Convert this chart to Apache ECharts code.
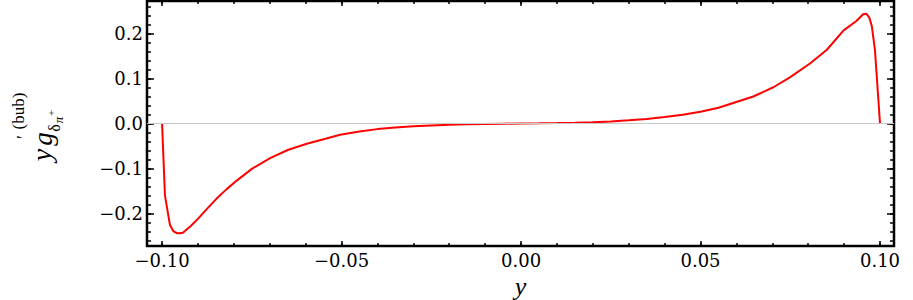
<!DOCTYPE html>
<html>
<head>
<meta charset="utf-8">
<script src="https://cdn.jsdelivr.net/npm/echarts@6/dist/echarts.min.js"></script>
<style>html,body{margin:0;padding:0;background:#fff}#c{width:913px;height:300px}</style>
</head>
<body>
<div id="c"></div>
<script>
// ---- data ----
const xValues = [-0.1, -0.0992, -0.0978, -0.0968, -0.0959, -0.0950, -0.0942, -0.0920, -0.0899, -0.0875,
  -0.0848, -0.0820, -0.0792, -0.0750, -0.0699, -0.0650, -0.0597, -0.0550, -0.0504, -0.0450,
  -0.0400, -0.0350, -0.0300, -0.0250, -0.0200, -0.0150, -0.0100, -0.0050, 0.0, 0.0050,
  0.0100, 0.0150, 0.0200, 0.0250, 0.0300, 0.0350, 0.0400, 0.0450, 0.0500, 0.0550,
  0.0591, 0.0647, 0.0703, 0.0749, 0.0805, 0.0852, 0.0898, 0.0935, 0.0953, 0.0962,
  0.0970, 0.0977, 0.0986, 0.1];
const yValues = [0, -0.160, -0.226, -0.240, -0.244, -0.244, -0.243, -0.228, -0.211, -0.190,
  -0.167, -0.146, -0.127, -0.101, -0.077, -0.059, -0.045, -0.035, -0.025, -0.018,
  -0.0125, -0.0088, -0.0060, -0.0042, -0.0028, -0.0018, -0.0010, -0.0004, 0, 0.0003,
  0.0009, 0.0018, 0.0030, 0.0047, 0.0070, 0.0100, 0.0145, 0.0195, 0.0260, 0.0350,
  0.0455, 0.0600, 0.0806, 0.1026, 0.1334, 0.1640, 0.2066, 0.2286, 0.2430, 0.2440,
  0.2360, 0.2176, 0.1630, 0];
const xTickLabels = [-0.10, -0.05, 0.00, 0.05, 0.10];
const xMinorTicks = [-0.10,-0.09,-0.08,-0.07,-0.06,-0.05,-0.04,-0.03,-0.02,-0.01,0,0.01,0.02,0.03,0.04,0.05,0.06,0.07,0.08,0.09,0.10];
const yTickLabels = [-0.2, -0.1, 0.0, 0.1, 0.2];
const yMinorTicks = [-0.26,-0.24,-0.22,-0.2,-0.18,-0.16,-0.14,-0.12,-0.1,-0.08,-0.06,-0.04,-0.02,0,0.02,0.04,0.06,0.08,0.1,0.12,0.14,0.16,0.18,0.2,0.22,0.24,0.26];
const xRange = [-0.1042, 0.1039];
const yRange = [-0.2725, 0.2725];

const points = xValues.map((x, i) => [x, yValues[i]]);
const FONT = 'DejaVu Serif';
const NFONT = 'Liberation Serif';
const minus = s => s.replace('-', '\u2212');

function xAxisDef(pos, vals, len, labels) {
  return {
    type: 'value', position: pos, min: xRange[0], max: xRange[1],
    axisLine: {show: false, onZero: false},
    splitLine: {show: false},
    axisTick: {show: true, inside: true, length: len, customValues: vals, lineStyle: {color: '#000', width: 1.5}},
    axisLabel: labels ? {show: true, customValues: xTickLabels, margin: 5, color: '#000', fontFamily: FONT, fontSize: 18,
      formatter: v => minus(v.toFixed(2))} : {show: false}
  };
}
function yAxisDef(pos, vals, len, labels) {
  return {
    type: 'value', position: pos, min: yRange[0], max: yRange[1],
    axisLine: {show: false, onZero: false},
    splitLine: {show: false},
    axisTick: {show: true, inside: true, length: len, customValues: vals, lineStyle: {color: '#000', width: 1.5}},
    axisLabel: labels ? {show: true, customValues: yTickLabels, margin: 4, color: '#000', fontFamily: FONT, fontSize: 18,
      formatter: v => minus(v.toFixed(1))} : {show: false}
  };
}

const chart = echarts.init(document.getElementById('c'), null, {renderer: 'svg'});
const xs = [xAxisDef('bottom', xTickLabels, 5, true), xAxisDef('bottom', xMinorTicks, 3, false),
            xAxisDef('top', xTickLabels, 5, false), xAxisDef('top', xMinorTicks, 3, false)];
xs[0].name = 'y';
xs[0].nameLocation = 'middle';
xs[0].nameGap = 17;
xs[0].nameTextStyle = {fontFamily: NFONT, fontStyle: 'italic', fontSize: 26, color: '#000', lineHeight: 26};
const ys = [yAxisDef('left', yTickLabels, 7, true), yAxisDef('left', yMinorTicks, 4, false),
            yAxisDef('right', yTickLabels, 7, false), yAxisDef('right', yMinorTicks, 4, false)];

// rotated y-axis title pieces (text reads bottom-to-top)
const piece = (text, x, y, size, italic) => ({
  type: 'text', x: x, y: y, rotation: Math.PI / 2,
  style: {text: text, fill: '#000', fontSize: size, fontFamily: NFONT, fontStyle: italic ? 'italic' : 'normal',
    align: 'center', verticalAlign: 'middle'}
});

chart.setOption({
  animation: false,
  grid: {left: 147, right: 19, top: 1, bottom: 54, show: true, borderColor: '#000', borderWidth: 2.5,
    backgroundColor: 'transparent', outerBoundsMode: 'none', containLabel: false},
  xAxis: xs,
  yAxis: ys,
  graphic: [
    piece('y', 41, 155, 28, true),
    piece('g', 43, 139, 27, true),
    piece('\u03b4', 54, 128, 16, false),
    piece('\u03c0', 58, 120, 13, true),
    piece('+', 51, 113, 11, false),
    piece('\u2032', 24, 137, 18, false),
    piece('(bub)', 18, 111, 17, false)
  ],
  series: [{
    type: 'line', xAxisIndex: 0, yAxisIndex: 0, data: points,
    showSymbol: false, smooth: false,
    lineStyle: {color: '#ff0000', width: 2},
    markLine: {silent: true, symbol: 'none', label: {show: false},
      lineStyle: {color: '#c8c8c8', width: 1, type: 'solid'},
      data: [{yAxis: 0}]},
    z: 3
  }]
});
</script>
</body>
</html>
